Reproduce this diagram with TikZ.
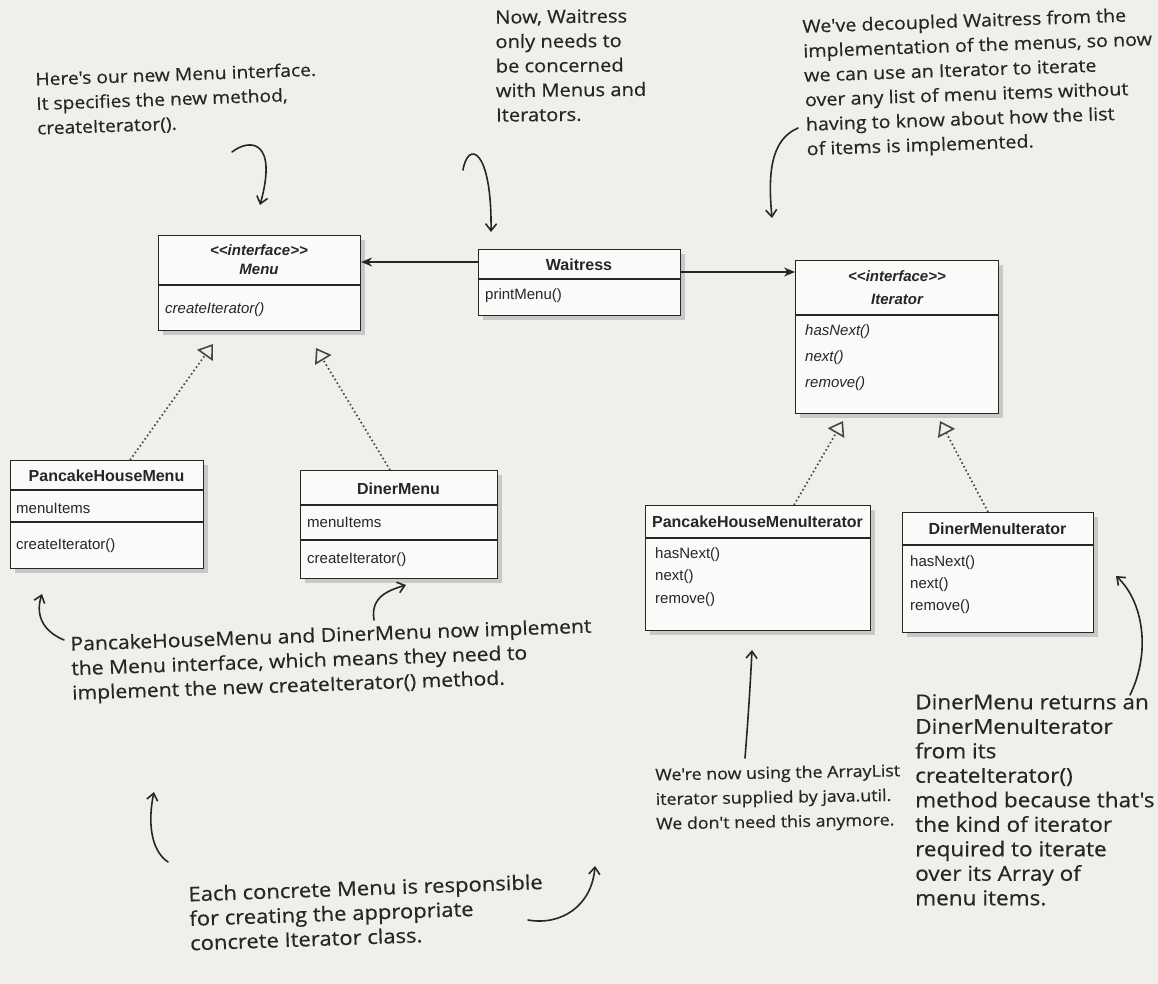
\documentclass[tikz,border=0pt]{standalone}
\usepackage{fontspec}
\setmainfont{Liberation Sans}
\newfontfamily\umlfont{Liberation Sans}
\newfontfamily\handfont[FakeStretch=1.1,FakeBold=0.5]{Open Sans}
\usetikzlibrary{arrows.meta,shadows}
\definecolor{paper}{HTML}{F1EFEC}
\definecolor{boxfill}{HTML}{FAFAF8}
\definecolor{ink}{HTML}{262626}
\tikzset{
  umlbox/.style={draw=ink, line width=1.1pt, fill=boxfill, anchor=north west, inner sep=0pt,
    drop shadow={opacity=0.35, shadow xshift=4pt, shadow yshift=-4pt}},
  sepline/.style={draw=ink, line width=1.1pt},
  umltitle/.style={font=\umlfont\bfseries\fontsize{16}{18}\selectfont, inner sep=0pt, text=ink},
  umlstereo/.style={font=\umlfont\bfseries\itshape\fontsize{15}{17}\selectfont, inner sep=0pt, text=ink},
  umlitem/.style={font=\umlfont\fontsize{15}{17}\selectfont, inner sep=0pt, anchor=west, text=ink},
  umlitemit/.style={umlitem, font=\umlfont\itshape\fontsize{15}{17}\selectfont},
  hand/.style={font=\handfont\fontsize{#1}{24.5}\selectfont, align=left, anchor=north west, inner sep=0pt, text=ink, rotate=2},
  hand/.default=17.5,
  harrow/.style={draw=ink, line width=1.6pt, line cap=round, -{Straight Barb[length=7pt,width=11pt,line width=1.6pt]}},
  assoc/.style={draw=ink, line width=1.4pt, -{Stealth[length=11pt,width=9pt]}},
  realize/.style={draw=ink!85, line width=1.7pt, dash pattern=on 1.6pt off 2.6pt,
    -{Triangle[open,length=14pt,width=19pt,line width=1.6pt]}}
}
\begin{document}
\begin{tikzpicture}[x=1pt,y=-1pt]
\useasboundingbox (0,0) rectangle (1158,984);
\fill[paper] (0,0) rectangle (1158,984);

% ---------- Menu ----------
\node[umlbox, minimum width=202pt, minimum height=95pt] (menu) at (158,235) {};
\draw[sepline] ([yshift=-50pt]menu.north west) -- ([yshift=-50pt]menu.north east);
\node[umlstereo] (menus) at (259,250) {\textless\kern0pt\textless interface\textgreater\kern0pt\textgreater};
\node[umlstereo] (menun) at (259,269) {Menu};
\node[umlitemit] (menum) at (165,310) {createIterator()};

% ---------- Waitress ----------
\node[umlbox, minimum width=202pt, minimum height=66pt] (wait) at (478,249) {};
\draw[sepline] ([yshift=-30pt]wait.north west) -- ([yshift=-30pt]wait.north east);
\node[umltitle] (waitn) at (579,265) {Waitress};
\node[umlitem] (waitm) at (485,296) {printMenu()};

% ---------- Iterator ----------
\node[umlbox, minimum width=203pt, minimum height=153pt] (iter) at (795,260) {};
\draw[sepline] ([yshift=-55pt]iter.north west) -- ([yshift=-55pt]iter.north east);
\node[umlstereo] (iters) at (897,276) {\textless\kern0pt\textless interface\textgreater\kern0pt\textgreater};
\node[umlstereo] (itern) at (897,299) {Iterator};
\node[umlitemit] (iterm1) at (805,332) {hasNext()};
\node[umlitemit] (iterm2) at (805,358) {next()};
\node[umlitemit] (iterm3) at (805,384) {remove()};

% ---------- PancakeHouseMenu ----------
\node[umlbox, minimum width=193pt, minimum height=108pt] (phm) at (10,460) {};
\draw[sepline] ([yshift=-30pt]phm.north west) -- ([yshift=-30pt]phm.north east);
\draw[sepline] ([yshift=-62pt]phm.north west) -- ([yshift=-62pt]phm.north east);
\node[umltitle] (phmn) at (106.5,476) {PancakeHouseMenu};
\node[umlitem] (phma) at (16,508) {menuItems};
\node[umlitem] (phmm) at (16,546) {createIterator()};

% ---------- DinerMenu ----------
\node[umlbox, minimum width=197pt, minimum height=108pt] (dm) at (300,470) {};
\draw[sepline] ([yshift=-35pt]dm.north west) -- ([yshift=-35pt]dm.north east);
\draw[sepline] ([yshift=-70pt]dm.north west) -- ([yshift=-70pt]dm.north east);
\node[umltitle] (dmn) at (398.5,489) {DinerMenu};
\node[umlitem] (dma) at (307,522) {menuItems};
\node[umlitem] (dmm) at (307,560) {createIterator()};

% ---------- PancakeHouseMenuIterator ----------
\node[umlbox, minimum width=225pt, minimum height=125pt] (phmi) at (645,505) {};
\draw[sepline] ([yshift=-33pt]phmi.north west) -- ([yshift=-33pt]phmi.north east);
\node[umltitle] (phmin) at (757.5,522) {PancakeHouseMenuIterator};
\node[umlitem] (phmi1) at (655,555) {hasNext()};
\node[umlitem] (phmi2) at (655,577) {next()};
\node[umlitem] (phmi3) at (655,600) {remove()};

% ---------- DinerMenuIterator ----------
\node[umlbox, minimum width=191pt, minimum height=120pt] (dmi) at (902,512) {};
\draw[sepline] ([yshift=-33pt]dmi.north west) -- ([yshift=-33pt]dmi.north east);
\node[umltitle] (dmin) at (997.5,529) {DinerMenuIterator};
\node[umlitem] (dmi1) at (910,563) {hasNext()};
\node[umlitem] (dmi2) at (910,585) {next()};
\node[umlitem] (dmi3) at (910,607) {remove()};

% ---------- associations ----------
\draw[assoc] ([yshift=-13pt]wait.north west) -- (menu.east |- 0,262);
\draw[assoc] ([yshift=-23pt]wait.north east) -- (iter.west |- 0,272);

% ---------- realizations ----------
\coordinate (t1) at (213,344);
\coordinate (t2) at (316,348);
\coordinate (t3) at (843,421);
\coordinate (t4) at (940,421);
\draw[realize] ([xshift=23pt]phm.north) -- (t1);
\draw[realize] ([xshift=-9pt]dm.north) -- (t2);
\draw[realize] ([xshift=36pt]phmi.north) -- (t3);
\draw[realize] ([xshift=-10pt]dmi.north) -- (t4);

% ---------- handwritten notes ----------
\node[hand] (n1) at (35,72) {Here's our new Menu interface.\\It specifies the new method,\\createIterator().};
\node[hand=18.3, rotate=-1.5] (n2) at (495,10) {Now, Waitress\\only needs to\\be concerned\\with Menus and\\Iterators.};
\node[hand=17.9] (n3) at (802,19) {We've decoupled Waitress from the\\implementation of the menus, so now\\we can use an Iterator to iterate\\over any list of menu items without\\having to know about how the list\\of items is implemented.};
\node[hand=19.2] (n4) at (70,636) {PancakeHouseMenu and DinerMenu now implement\\the Menu interface, which means they need to\\implement the new createIterator() method.};
\node[hand=16.2, rotate=-1] (n5) at (655,768) {We're now using the ArrayList\\iterator supplied by java.util.\\We don't need this anymore.};
\node[hand=20.5, rotate=-2] (n6) at (915,694) {DinerMenu returns an\\DinerMenuIterator\\from its\\createIterator()\\method because that's\\the kind of iterator\\required to iterate\\over its Array of\\menu items.};
\node[hand=20] (n7) at (188,886) {Each concrete Menu is responsible\\for creating the appropriate\\concrete Iterator class.};

% ---------- handwritten arrows ----------
\coordinate (a1s) at (232,152); \coordinate (a1e) at (260,205);
\draw[harrow] (a1s) .. controls (250,138) and (278,140) .. (a1e);
\coordinate (a2s) at (463,170); \coordinate (a2e) at (491,232);
\draw[harrow] (a2s) .. controls (468,140) and (492,148) .. (a2e);
\coordinate (a3s) at (798,128); \coordinate (a3e) at (772,218);
\draw[harrow] (a3s) .. controls (770,140) and (768,175) .. (a3e);
\coordinate (a4s) at (64,640); \coordinate (a4e) at (42,594);
\draw[harrow] (a4s) .. controls (40,630) and (36,612) .. (a4e);
\coordinate (a5s) at (374,620); \coordinate (a5e) at (406,585);
\draw[harrow] (a5s) .. controls (370,596) and (390,590) .. (a5e);
\coordinate (a6s) at (745,758); \coordinate (a6e) at (752,650);
\draw[harrow] (a6s) .. controls (748,720) and (750,690) .. (a6e);
\coordinate (a7s) at (1130,695); \coordinate (a7e) at (1116,576);
\draw[harrow] (a7s) .. controls (1152,650) and (1142,600) .. (a7e);
\coordinate (a8s) at (168,862); \coordinate (a8e) at (154,792);
\draw[harrow] (a8s) .. controls (150,850) and (148,820) .. (a8e);
\coordinate (a9s) at (528,920); \coordinate (a9e) at (595,866);
\draw[harrow] (a9s) .. controls (562,926) and (592,905) .. (a9e);
\end{tikzpicture}
\end{document}
